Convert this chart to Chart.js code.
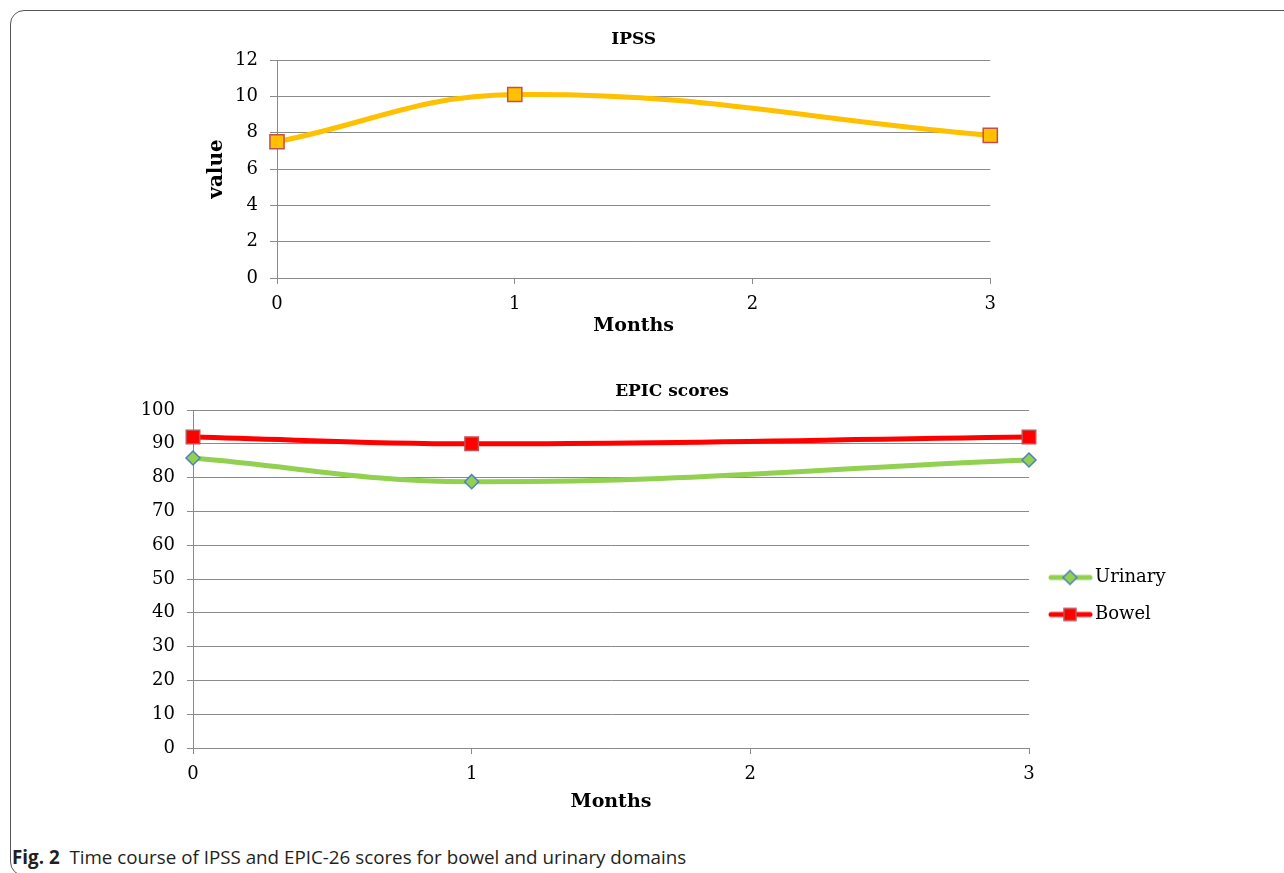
<!DOCTYPE html>
<html lang="en">
  <head>
    <meta charset="UTF-8" />
    <title>Fig. 2</title>
    <script src="https://cdn.jsdelivr.net/npm/chart.js@4.4.1/dist/chart.umd.min.js"></script>
    <style>
      html, body { margin: 0; padding: 0; background: #fff; }
      body { width: 1284px; height: 873px; position: relative; overflow: hidden; }
      .frame {
        position: absolute; left: 10px; top: 10px; width: 1330px; height: 866px;
        border: 1px solid #555; border-radius: 14px; box-sizing: border-box;
      }
      #ipss { position: absolute; left: 187px; top: 20px; }
      #epic { position: absolute; left: 120px; top: 358px; }
      .caption {
        position: absolute; left: 12px; top: 846px; white-space: pre;
        font-family: 'Open Sans', sans-serif; font-size: 18.8px; line-height: 22px; color: #231f20;
      }
      .caption b { font-weight: 700; }
    </style>
  </head>
  <body>
    <div class="frame"></div>
    <canvas id="ipss" width="819" height="320"></canvas>
    <canvas id="epic" width="1104" height="476"></canvas>
    <div class="caption"><b>Fig. 2</b>  Time course of IPSS and EPIC-26 scores for bowel and urinary domains</div>

    <script>
      //data
      const months = [0, 1, 3];
      const ipssValues = [7.5, 10.1, 7.85];
      const urinaryValues = [85.8, 78.8, 85.2];
      const bowelValues = [92, 90, 92];

      const toPoints = (values) => months.map((m, i) => ({ x: m, y: values[i] }));

      const gridColor = '#8a8a8a';
      Chart.defaults.font.family = "'DejaVu Serif', serif";
      Chart.defaults.color = '#000';

      // legend needs a fixed width so the plot ends where the reference does
      const legendWidth = {
        id: 'legendWidth',
        beforeLayout(chart, args, opts) {
          const lg = chart.legend;
          if (lg && !lg._fixedWidth) {
            const fit = lg.fit;
            lg.fit = function () {
              fit.call(this);
              this.width = opts.width;
            };
            lg._fixedWidth = true;
          }
        }
      };

      // line + marker sample for the legend
      function legendIcon(lineColor, marker) {
        const c = document.createElement('canvas');
        c.width = 52;
        c.height = 18;
        const g = c.getContext('2d');
        g.strokeStyle = lineColor;
        g.lineWidth = 5;
        g.lineCap = 'round';
        g.beginPath();
        g.moveTo(10, 9);
        g.lineTo(49, 9);
        g.stroke();
        marker(g, 29, 9);
        return c;
      }

      const urinaryIcon = legendIcon('#92D050', (g, x, y) => {
        g.beginPath();
        g.moveTo(x, y - 7);
        g.lineTo(x + 7, y);
        g.lineTo(x, y + 7);
        g.lineTo(x - 7, y);
        g.closePath();
        g.fillStyle = '#92D050';
        g.fill();
        g.lineWidth = 1.5;
        g.strokeStyle = '#4F81BD';
        g.stroke();
      });

      const bowelIcon = legendIcon('#FF0000', (g, x, y) => {
        g.fillStyle = '#FF0000';
        g.fillRect(x - 6, y - 6, 12, 12);
        g.lineWidth = 1.5;
        g.strokeStyle = '#C0504D';
        g.strokeRect(x - 6, y - 6, 12, 12);
      });

      //IPSS chart
      new Chart(document.getElementById('ipss'), {
        type: 'line',
        data: {
          datasets: [
            {
              label: 'IPSS',
              data: toPoints(ipssValues),
              borderColor: '#FFC000',
              borderWidth: 5,
              tension: 0.4,
              pointStyle: 'rect',
              pointRadius: 10,
              pointBackgroundColor: '#FFC000',
              pointBorderColor: '#C0504D',
              pointBorderWidth: 1.5,
              clip: false
            }
          ]
        },
        options: {
          responsive: false,
          animation: false,
          layout: { padding: { right: 10 } },
          plugins: {
            legend: { display: false },
            tooltip: { enabled: false },
            title: {
              display: true,
              text: 'IPSS',
              fullSize: false,
              font: { size: 17, weight: 'bold' },
              padding: { top: 9.5, bottom: 10.1 }
            }
          },
          scales: {
            x: {
              type: 'linear',
              min: 0,
              max: 3,
              ticks: { stepSize: 1, padding: 10, font: { size: 18 } },
              grid: { drawOnChartArea: false, tickLength: 6, color: gridColor },
              border: { color: gridColor },
              title: {
                display: true,
                text: 'Months',
                font: { size: 19, weight: 'bold' },
                padding: { top: 0, bottom: 2.8 }
              },
              afterFit: (s) => { s.height = 62; }
            },
            y: {
              min: 0,
              max: 12,
              ticks: { stepSize: 2, padding: 12, font: { size: 18 } },
              grid: { tickLength: 7, color: gridColor },
              border: { color: gridColor },
              title: {
                display: true,
                text: 'value',
                font: { size: 20, weight: 'bold' },
                padding: { top: 18, bottom: 0 }
              },
              afterFit: (s) => { s.width = 90; }
            }
          }
        }
      });

      //EPIC chart
      new Chart(document.getElementById('epic'), {
        type: 'line',
        data: {
          datasets: [
            {
              label: 'Urinary',
              data: toPoints(urinaryValues),
              borderColor: '#92D050',
              borderWidth: 5,
              tension: 0.4,
              pointStyle: 'rectRot',
              pointRadius: 7,
              pointBackgroundColor: '#92D050',
              pointBorderColor: '#4F81BD',
              pointBorderWidth: 1.5,
              clip: false
            },
            {
              label: 'Bowel',
              data: toPoints(bowelValues),
              borderColor: '#FF0000',
              borderWidth: 5,
              tension: 0.4,
              pointStyle: 'rect',
              pointRadius: 9.5,
              pointBackgroundColor: '#FF0000',
              pointBorderColor: '#C0504D',
              pointBorderWidth: 1.5,
              clip: false
            }
          ]
        },
        plugins: [legendWidth],
        options: {
          responsive: false,
          animation: false,
          plugins: {
            legendWidth: { width: 195 },
            tooltip: { enabled: false },
            title: {
              display: true,
              text: 'EPIC scores',
              font: { size: 17, weight: 'bold' },
              padding: { top: 23.5, bottom: 8.1 }
            },
            legend: {
              position: 'right',
              align: 'center',
              labels: {
                usePointStyle: true,
                pointStyleWidth: 38,
                padding: 19,
                font: { size: 18 },
                color: '#000',
                generateLabels: () => [
                  { text: 'Urinary', pointStyle: urinaryIcon, datasetIndex: 0, lineWidth: 0, fontColor: '#000' },
                  { text: 'Bowel', pointStyle: bowelIcon, datasetIndex: 1, lineWidth: 0, fontColor: '#000' }
                ]
              }
            }
          },
          scales: {
            x: {
              type: 'linear',
              min: 0,
              max: 3,
              ticks: { stepSize: 1, padding: 10, font: { size: 18 } },
              grid: { drawOnChartArea: false, tickLength: 6, color: gridColor },
              border: { color: gridColor },
              title: {
                display: true,
                text: 'Months',
                font: { size: 19, weight: 'bold' },
                padding: { top: 0, bottom: 20.6 }
              },
              afterFit: (s) => { s.height = 86; }
            },
            y: {
              min: 0,
              max: 100,
              ticks: { stepSize: 10, padding: 12, font: { size: 18 } },
              grid: { tickLength: 6, color: gridColor },
              border: { color: gridColor },
              afterFit: (s) => { s.width = 73; }
            }
          }
        }
      });
    </script>
  </body>
</html>
